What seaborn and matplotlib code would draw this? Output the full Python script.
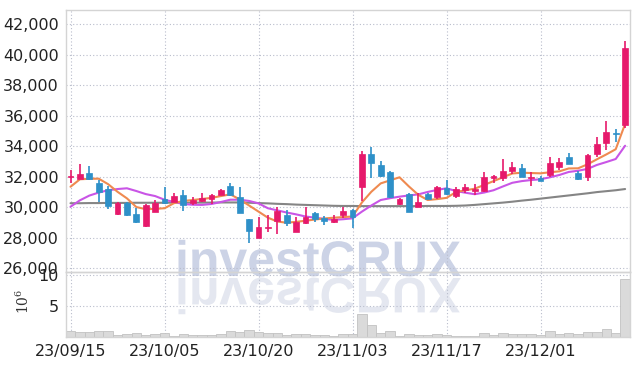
import pandas as pd
import numpy as np
import matplotlib
matplotlib.use("Agg")
import matplotlib.pyplot as plt
import seaborn as sns
from matplotlib.textpath import TextPath
from matplotlib.patches import PathPatch
from matplotlib.font_manager import FontProperties
from matplotlib.transforms import Affine2D
from matplotlib.ticker import FuncFormatter

# trading days 2023-09-15 .. 2023-12-14
dates = ["2023-09-15", "2023-09-18", "2023-09-19", "2023-09-20", "2023-09-21", "2023-09-22",
         "2023-09-25", "2023-09-26", "2023-09-27", "2023-10-04", "2023-10-05", "2023-10-06",
         "2023-10-10", "2023-10-11", "2023-10-12", "2023-10-13", "2023-10-16", "2023-10-17",
         "2023-10-18", "2023-10-19", "2023-10-20", "2023-10-23", "2023-10-24", "2023-10-25",
         "2023-10-26", "2023-10-27", "2023-10-30", "2023-10-31", "2023-11-01", "2023-11-02",
         "2023-11-03", "2023-11-06", "2023-11-07", "2023-11-08", "2023-11-09", "2023-11-10",
         "2023-11-13", "2023-11-14", "2023-11-15", "2023-11-16", "2023-11-17", "2023-11-20",
         "2023-11-21", "2023-11-22", "2023-11-23", "2023-11-24", "2023-11-27", "2023-11-28",
         "2023-11-29", "2023-11-30", "2023-12-01", "2023-12-04", "2023-12-05", "2023-12-06",
         "2023-12-07", "2023-12-08", "2023-12-11", "2023-12-12", "2023-12-13", "2023-12-14"]

opens = [31950, 31850, 32200, 31600, 31200, 29550, 30280, 29550, 28750, 29700,
         30500, 30330, 30790, 30280, 30410, 30500, 30800, 31380, 30680, 29200,
         28000, 28650, 29100, 29480, 28380, 28930, 29590, 29260, 29040, 29480,
         29800, 31330, 33480, 32750, 32300, 30180, 30850, 30020, 30850, 30680,
         31230, 30720, 31110, 31070, 31070, 31920, 31920, 32380, 32560, 31930,
         31920, 32080, 32640, 33280, 32250, 31950, 33460, 34180, 34810, 35380]
highs = [32400, 32800, 32700, 31800, 31350, 30300, 30300, 29930, 30200, 30450,
         31300, 30900, 31100, 30680, 30940, 30850, 31180, 31600, 31290, 29200,
         29320, 29450, 30020, 29800, 29320, 30020, 29650, 29410, 29480, 29980,
         29850, 33650, 33920, 33040, 32380, 30600, 30950, 30900, 30900, 31400,
         31770, 31300, 31490, 31490, 32320, 32100, 33130, 32930, 32820, 32320,
         32050, 33260, 33190, 33560, 32380, 33500, 34610, 35640, 35120, 40920]
lows = [31600, 31850, 31750, 30350, 29870, 29500, 29400, 28950, 28700, 29650,
        30200, 30300, 29760, 30130, 30300, 30180, 30780, 30750, 29600, 27660,
        27950, 28380, 28250, 28750, 28350, 28900, 29050, 28800, 28930, 29260,
        28640, 30410, 31880, 32000, 30600, 30150, 29650, 29980, 30500, 30520,
        30800, 30570, 30900, 30790, 31000, 31550, 31730, 32160, 31950, 31400,
        31700, 32000, 32430, 32800, 31800, 31730, 33300, 33740, 34280, 35160]
closes = [32000, 32150, 31850, 31000, 30100, 30280, 29480, 29000, 30130, 30240,
          30250, 30720, 30110, 30460, 30570, 30790, 31110, 30790, 29630, 28430,
          28670, 28680, 29760, 28970, 29040, 29320, 29190, 29100, 29210, 29740,
          29320, 33480, 32870, 32050, 30640, 30520, 29690, 30330, 30520, 31290,
          30850, 31160, 31290, 31200, 31950, 32030, 32360, 32620, 31990, 31960,
          31730, 32910, 32950, 32820, 31820, 33410, 34110, 34900, 34780, 40450]

# moving averages as drawn
ma_short = [31330, 31820, 31850, 31860, 31500, 31000, 30570, 30000, 29860, 29880,
            29920, 30250, 30400, 30460, 30530, 30600, 30720, 30830, 30500, 30100,
            29700, 29300, 29050, 28970, 29030, 29100, 29180, 29250, 29300, 29340,
            29380, 30300, 31000, 31550, 31750, 31950, 31350, 30800, 30460, 30520,
            30600, 30980, 31100, 31200, 31450, 31700, 31950, 32200, 32250, 32230,
            32210, 32280, 32340, 32530, 32540, 32800, 33130, 33450, 33790, 35450]
ma_mid = [30020, 30440, 30750, 30950, 31100, 31180, 31230, 31050, 30850, 30720,
          30480, 30330, 30200, 30150, 30140, 30200, 30330, 30480, 30480, 30400,
          30240, 29920, 29780, 29640, 29520, 29380, 29300, 29220, 29160, 29200,
          29260, 29700, 30100, 30460, 30580, 30680, 30760, 30830, 30990, 31120,
          31230, 31050, 30940, 30840, 30950, 31100, 31350, 31590, 31700, 31770,
          31820, 31950, 32100, 32300, 32380, 32500, 32760, 32950, 33150, 34020]
ma_long = [30250, 30250, 30260, 30260, 30270, 30270, 30270, 30280, 30280, 30280,
           30280, 30290, 30290, 30290, 30290, 30290, 30300, 30300, 30300, 30280,
           30260, 30240, 30210, 30190, 30160, 30140, 30120, 30100, 30080, 30070,
           30070, 30060, 30060, 30060, 30060, 30060, 30060, 30060, 30070, 30070,
           30070, 30080, 30100, 30140, 30190, 30240, 30290, 30350, 30420, 30480,
           30550, 30620, 30690, 30760, 30830, 30900, 30980, 31040, 31100, 31180]

# volume in millions
volume = [0.91, 0.80, 0.80, 1.02, 1.02, 0.38, 0.54, 0.70, 0.38, 0.54,
          0.70, 0.22, 0.54, 0.38, 0.38, 0.38, 0.54, 1.02, 0.86, 1.18,
          0.80, 0.59, 0.70, 0.38, 0.54, 0.54, 0.38, 0.38, 0.22, 0.43,
          0.43, 3.66, 1.99, 0.65, 0.91, 0.22, 0.43, 0.27, 0.27, 0.43,
          0.27, 0.16, 0.16, 0.16, 0.60, 0.27, 0.60, 0.43, 0.43, 0.43,
          0.27, 0.91, 0.43, 0.60, 0.43, 0.75, 0.75, 1.24, 0.65, 9.40]

df = pd.DataFrame({"date": pd.to_datetime(dates), "open": opens, "high": highs,
                   "low": lows, "close": closes, "ma_s": ma_short, "ma_m": ma_mid,
                   "ma_l": ma_long, "vol": volume})
df["i"] = np.arange(len(df))

sns.set_style("white")
plt.rcParams["font.family"] = ["Liberation Sans Narrow", "DejaVu Sans"]
plt.rcParams["mathtext.fontset"] = "dejavuserif"

UP, DOWN = "#e6196b", "#2e90c8"
GRID = "#b9bdcc"
SPINE = "#d4d4d4"

fig = plt.figure(figsize=(6.39, 3.66), dpi=100)
fig.patch.set_facecolor("white")
W, H = 639, 366
ax = fig.add_axes([66 / W, 1 - 272 / H, 564 / W, 262 / H])
axv = fig.add_axes([66 / W, 1 - 337 / H, 564 / W, 65 / H], sharex=ax)
for a in (ax, axv):
    a.set_facecolor("none")

# moving averages
sns.lineplot(data=df, x="i", y="ma_l", ax=ax, color="#858585", linewidth=1.5, zorder=2)
sns.lineplot(data=df, x="i", y="ma_m", ax=ax, color="#c955e6", linewidth=1.5, zorder=2)
sns.lineplot(data=df, x="i", y="ma_s", ax=ax, color="#ef8a50", linewidth=1.5, zorder=2)

# candles
colors = np.where(df["close"] >= df["open"], UP, DOWN)
ax.vlines(df["i"], df["low"], df["high"], colors=colors, linewidth=1.2, zorder=3)
bottom = np.minimum(df["open"], df["close"])
height = np.maximum(np.abs(df["close"] - df["open"]), 60)
ax.bar(df["i"], height, bottom=bottom, width=0.62, color=colors,
       edgecolor=colors, linewidth=0.5, zorder=4)

# volume
sns.barplot(data=df, x="i", y="vol", ax=axv, native_scale=True, width=1.0,
            color="#dadada", saturation=1, edgecolor="#c2c2c2", linewidth=0.6, zorder=2)

ax.set_xlim(-0.48, 59.52)
ax.set_ylim(25740, 42920)
ax.set_yticks(range(26000, 42001, 2000))
ax.yaxis.set_major_formatter(FuncFormatter(lambda v, p: f"{int(v):,}"))
axv.set_ylim(0, 10.5)
axv.set_yticks([5, 10])

ticks = list(range(0, 60, 10))
axv.set_xticks(ticks)
axv.set_xticklabels(df["date"].dt.strftime("%y/%m/%d").iloc[ticks])
ax.tick_params(axis="x", labelbottom=False)

for a in (ax, axv):
    a.set_xlabel("")
    a.set_ylabel("")
    a.grid(True, linestyle=(0, (1, 2)), color=GRID, linewidth=0.8)
    a.set_axisbelow(True)
    a.tick_params(length=0, labelsize=11.5, labelcolor="#222222", pad=5)
    for s in a.spines.values():
        s.set_color(SPINE)
        s.set_linewidth(1)

axv.set_ylabel(r"$10^{6}$", fontsize=10, color="#333333", rotation=90)
axv.yaxis.set_label_coords(-0.06, 0.55)

# watermark with reflection
fp = FontProperties(family="Liberation Sans", weight="bold")
tp = TextPath((0, 0), "investCRUX", size=50, prop=fp)
x0, base = 175, H - 276
wm = PathPatch(tp, transform=Affine2D().translate(x0, base), facecolor="#ccd3e6",
               edgecolor="none", zorder=-1)
wm_r = PathPatch(tp, transform=Affine2D().scale(1, -1).translate(x0, base - 2),
                 facecolor="#e4e7f0", edgecolor="none", zorder=-1)
fig.add_artist(wm_r)
fig.add_artist(wm)

fig.savefig("out.png", dpi=100)
